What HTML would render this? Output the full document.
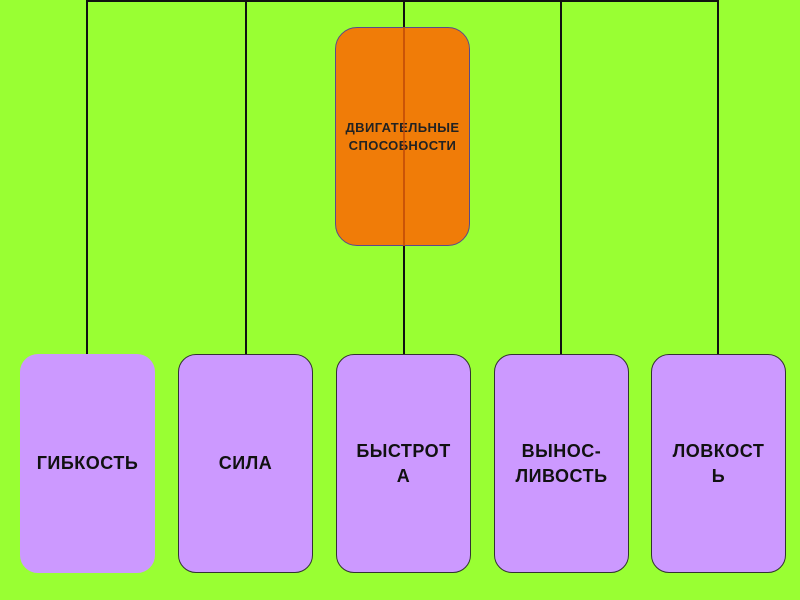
<!DOCTYPE html>
<html><head><meta charset="utf-8"><style>
body{margin:0;width:800px;height:600px;background:#99ff33;position:relative;overflow:hidden;font-family:"Liberation Sans",sans-serif}
.l{position:absolute;background:#111}
.b{position:absolute;top:354px;height:219px;width:135px;background:#cc99ff;border:1.5px solid #333;border-radius:18px;box-sizing:border-box;display:flex;align-items:center;justify-content:center;text-align:center;font-weight:bold;font-size:18px;line-height:25px;color:#111;letter-spacing:0.5px}
.o{position:absolute;left:335px;top:27px;width:135px;height:219px;background:#f07c08;border:1.5px solid #5a4a8a;border-radius:22px;box-sizing:border-box;display:flex;align-items:center;justify-content:center;text-align:center;font-size:13px;line-height:18px;color:#222;font-weight:bold;letter-spacing:0.4px}
</style></head><body>
<div class="l" style="left:86px;top:0;width:633px;height:2px"></div>
<div class="l" style="left:86px;top:0;width:2px;height:354px"></div>
<div class="l" style="left:245px;top:0;width:2px;height:354px"></div>
<div class="l" style="left:403px;top:0;width:2px;height:354px"></div>
<div class="l" style="left:560px;top:0;width:2px;height:354px"></div>
<div class="l" style="left:717px;top:0;width:2px;height:354px"></div>
<div class="o">ДВИГАТЕЛЬНЫЕ<br>СПОСОБНОСТИ</div>
<div style="position:absolute;left:403px;top:27px;width:2px;height:219px;background:#c04a08;opacity:0.8"></div>
<div class="b" style="left:20px;border-color:#cc99ff">ГИБКОСТЬ</div>
<div class="b" style="left:178px">СИЛА</div>
<div class="b" style="left:336px">БЫСТРОТ<br>А</div>
<div class="b" style="left:494px">ВЫНОС-<br>ЛИВОСТЬ</div>
<div class="b" style="left:651px">ЛОВКОСТ<br>Ь</div>
</body></html>
